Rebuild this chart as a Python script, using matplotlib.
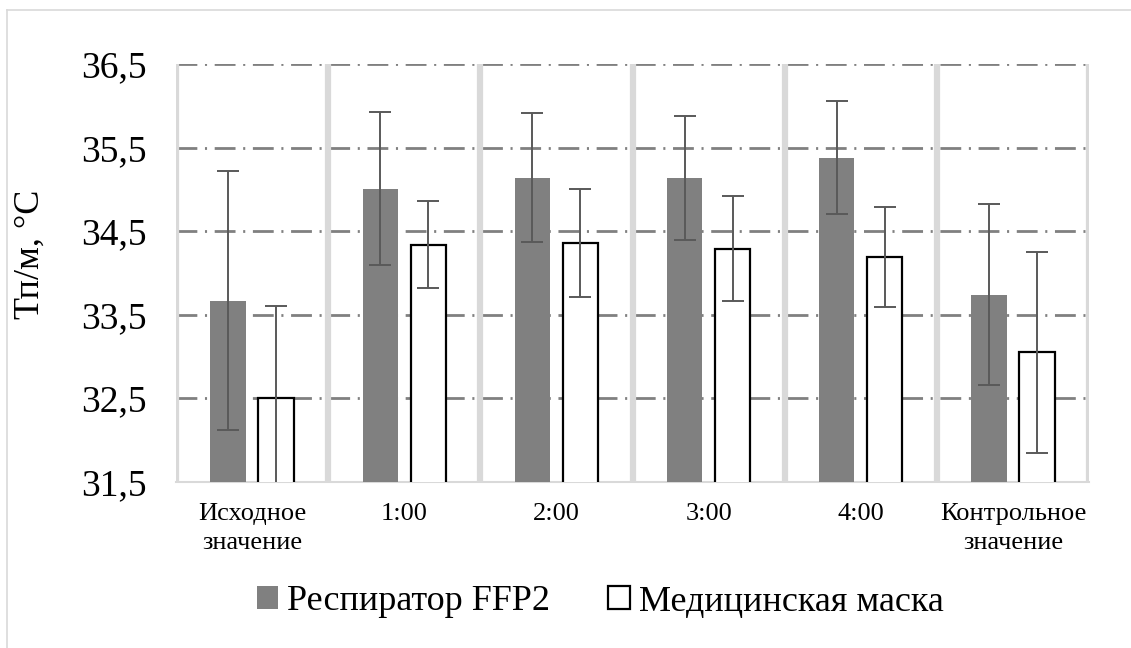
import numpy as np
from matplotlib import pyplot as plt
from matplotlib.patches import Patch
from matplotlib.lines import Line2D

categories = ['Исходное\nзначение', '1:00', '2:00', '3:00', '4:00', 'Контрольное\nзначение']
ffp2 = [33.67, 35.01, 35.14, 35.14, 35.38, 33.74]
ffp2_err = [1.55, 0.915, 0.77, 0.74, 0.68, 1.08]
mask = [32.5, 34.34, 34.36, 34.29, 34.19, 33.05]
mask_err = [1.1, 0.52, 0.65, 0.63, 0.6, 1.2]
yticks = [31.5, 32.5, 33.5, 34.5, 35.5, 36.5]

plt.rcParams['font.family'] = ['Liberation Serif', 'DejaVu Serif']
plt.rcParams['lines.scale_dashes'] = False

W, H = 1131, 648
fig = plt.figure(figsize=(W / 100, H / 100), dpi=100)
ax = fig.add_axes([176 / W, 1 - 482 / H, (1089 - 176) / W, (482 - 64) / H])

x = np.arange(len(categories))
off = 0.158
bw = 0.232

# dash-dot grid
for t in yticks[1:]:
    ax.axhline(t, color='#808080', lw=2, dashes=(15, 5.5, 1.5, 5.5), zorder=1)

# light grey category separators
for b in np.arange(-0.5, len(categories), 1.0):
    ax.axvline(b, color='#d9d9d9', lw=4.5, zorder=2)

ax.bar(x - off, ffp2, bw, color='#808080', zorder=3)
ax.bar(x + off, mask, bw, color='white', edgecolor='black', linewidth=1.6, zorder=3)
ax.errorbar(x - off, ffp2, yerr=ffp2_err, fmt='none', ecolor='#595959',
            elinewidth=1.4, capsize=8, capthick=1.4, zorder=4)
ax.errorbar(x + off, mask, yerr=mask_err, fmt='none', ecolor='#595959',
            elinewidth=1.4, capsize=8, capthick=1.4, zorder=4)

ax.set_xlim(-0.5, len(categories) - 0.5)
ax.set_ylim(31.5, 36.5)
ax.set_yticks(yticks)
ax.set_yticklabels([f'{t:.1f}'.replace('.', ',') for t in yticks], fontsize=27)
ax.set_xticks(x)
ax.set_xticklabels(categories, fontsize=19, linespacing=1.45)
ax.tick_params(axis='y', length=0, pad=21)
ax.tick_params(axis='x', length=0, pad=15)
for s in ['top', 'right', 'left']:
    ax.spines[s].set_visible(False)
ax.spines['bottom'].set_color('#d9d9d9')
ax.spines['bottom'].set_linewidth(1.5)

ax.set_ylabel('Тп/м, °C', fontsize=26)
ax.yaxis.set_label_coords((47 - 176) / (1089 - 176), (482 - 254) / (482 - 64))

handles = [Patch(facecolor='#808080', edgecolor='none'),
           Patch(facecolor='white', edgecolor='black', linewidth=1.6)]
fig.legend(handles, ['Респиратор FFP2', 'Медицинская маска'], loc='center',
           bbox_to_anchor=(600 / W, 1 - 602 / H), ncol=2, frameon=False,
           fontsize=26, handlelength=0.6, handleheight=0.6,
           handletextpad=0.25, columnspacing=1.6)

# chart area border (left and top visible)
fig.add_artist(Line2D([7 / W, 7 / W], [0, 1 - 10 / H], transform=fig.transFigure,
                      color='#d9d9d9', lw=1.2))
fig.add_artist(Line2D([7 / W, 1], [1 - 10 / H, 1 - 10 / H], transform=fig.transFigure,
                      color='#d9d9d9', lw=1.2))

fig.savefig('out.png', dpi=100)
